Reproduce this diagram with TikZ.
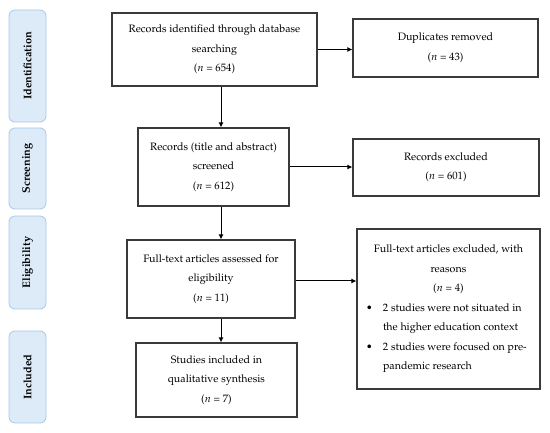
\documentclass[tikz,border=0pt]{standalone}
\usepackage[T1]{fontenc}
\usepackage{mathpazo}
\usetikzlibrary{arrows.meta}
\definecolor{boxline}{HTML}{3A3A3A}
\definecolor{barfill}{HTML}{DDEAF7}
\definecolor{barline}{HTML}{A9C8EA}
\tikzset{
  flowbox/.style={draw=boxline, line width=1.1pt, align=center, inner sep=3pt,
    font=\fontsize{10.7}{19.5}\selectfont},
  phasebar/.style={draw=barline, fill=barfill, line width=0.8pt, rounded corners=6pt,
    rotate=90, font=\fontsize{11}{12}\selectfont\bfseries, minimum height=37pt, inner sep=2pt},
  flowarrow/.style={draw=black, line width=1pt, -{Latex[length=5pt,width=5pt]}}
}
\begin{document}
\begin{tikzpicture}[x=1pt,y=-1pt]
\useasboundingbox (0,0) rectangle (550,433);
% phase bars
\node[phasebar, minimum width=112pt] (pid) at (27.5,66) {Identification};
\node[phasebar, minimum width=81pt] (psc) at (27.5,168.5) {Screening};
\node[phasebar, minimum width=93pt] (pel) at (27.5,262.5) {Eligibility};
\node[phasebar, minimum width=92pt] (pin) at (27.5,377) {Included};
% main column
\node[flowbox, minimum width=205pt, minimum height=73pt] (b1) at (214.5,49.5)
  {Records identified through database\\searching\\($n$ = 654)};
\node[flowbox, minimum width=151pt, minimum height=78pt] (b2) at (213.5,167)
  {Records (title and abstract)\\screened\\($n$ = 612)};
\node[flowbox, minimum width=168pt, minimum height=78pt] (b3) at (211,279)
  {Full-text articles assessed for\\eligibility\\($n$ = 11)};
\node[flowbox, minimum width=161pt, minimum height=74pt] (b4) at (216.5,380)
  {Studies included in\\qualitative synthesis\\($n$ = 7)};
% side column
\node[flowbox, minimum width=185pt, minimum height=58pt] (d1) at (445.5,48)
  {Duplicates removed\\($n$ = 43)};
\node[flowbox, minimum width=186pt, minimum height=57pt] (d2) at (446,167.5)
  {Records excluded\\($n$ = 601)};
\node[flowbox, minimum width=183pt, minimum height=160pt, text width=169pt, inner xsep=7pt, align=none] (d3) at (448.5,309)
  {{\centering Full-text articles excluded, with\\reasons\\($n$ = 4)\par}
   \noindent\hangindent=19pt\hangafter=1\makebox[19pt][l]{\hspace{2pt}\textbullet}2 studies were not situated in\\the higher education context\par
   \noindent\hangindent=19pt\hangafter=1\makebox[19pt][l]{\hspace{2pt}\textbullet}2 studies were focused on pre-\\pandemic research\par};
% connectors
\coordinate (ax) at (221,0);
\draw[flowarrow] (b1.south -| ax) -- (b2.north -| ax);
\draw[flowarrow] (b2.south -| ax) -- (b3.north -| ax);
\draw[flowarrow] (b3.south -| ax) -- (b4.north -| ax);
\draw[flowarrow] (b1.east) -- (b1.east -| d1.west);
\draw[flowarrow] (b2.east) -- (b2.east -| d2.west);
\draw[flowarrow] ([yshift=-2pt]b3.east) -- ([yshift=-2pt]b3.east -| d3.west);
\end{tikzpicture}
\end{document}
